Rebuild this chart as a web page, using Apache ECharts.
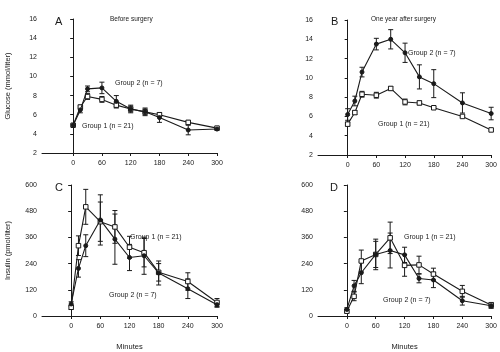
<!DOCTYPE html>
<html>
<head>
<meta charset="utf-8">
<script src="https://cdn.jsdelivr.net/npm/echarts@6/dist/echarts.min.js"></script>
<style>
  html, body { margin: 0; padding: 0; background: #fff; }
  #chart { width: 500px; height: 352px; }
</style>
</head>
<body>
<div id="chart"></div>
<script>
// sampling times (minutes)
const minutes = [0, 15, 30, 60, 90, 120, 150, 180, 240, 300];
const xTicks = [0, 60, 120, 180, 240, 300];

// A: glucose before surgery (mmol/liter)
const glucoseBeforeG1 = [4.9, 6.8, 7.9, 7.6, 7.0, 6.6, 6.3, 6.0, 5.2, 4.6];
const glucoseBeforeG1Err = [0.1, 0.2, 0.3, 0.3, 0.3, 0.3, 0.3, 0.2, 0.2, 0.1];
const glucoseBeforeG2 = [4.9, 6.5, 8.7, 8.8, 7.4, 6.6, 6.3, 5.7, 4.4, 4.5];
const glucoseBeforeG2Err = [0.1, 0.3, 0.3, 0.6, 0.6, 0.4, 0.4, 0.5, 0.5, 0.1];

// B: glucose one year after surgery
const glucoseAfterG1 = [5.2, 6.4, 8.3, 8.2, 8.9, 7.5, 7.4, 6.9, 6.0, 4.6];
const glucoseAfterG1Err = [0.2, 0.2, 0.3, 0.3, 0.2, 0.3, 0.2, 0.1, 0.1, 0.1];
const glucoseAfterG2 = [6.2, 7.6, 10.6, 13.5, 14.0, 12.6, 10.1, 9.4, 7.4, 6.3];
const glucoseAfterG2Err = [0.6, 0.5, 0.5, 0.6, 1.0, 1.0, 1.25, 1.45, 1.05, 0.65];

// C: insulin before surgery (pmol/liter)
const insulinBeforeG1 = [40, 322, 500, 432, 408, 315, 290, 200, 158, 62];
const insulinBeforeG1Err = [10, 45, 80, 90, 75, 50, 65, 40, 40, 18];
const insulinBeforeG2 = [55, 218, 322, 440, 352, 268, 276, 197, 125, 52];
const insulinBeforeG2Err = [10, 40, 50, 115, 115, 60, 85, 55, 45, 12];

// D: insulin one year after surgery
const insulinAfterG1 = [22, 90, 252, 282, 358, 232, 234, 192, 113, 50];
const insulinAfterG1Err = [8, 20, 50, 70, 72, 50, 40, 27, 27, 12];
const insulinAfterG2 = [30, 138, 198, 282, 300, 280, 172, 165, 70, 47];
const insulinAfterG2Err = [8, 25, 50, 60, 80, 35, 20, 35, 20, 12];

const ink = '#1a1a1a';
const font = 'Liberation Sans, Arial, sans-serif';

const chart = echarts.init(document.getElementById('chart'));

function pairs(vals) {
    return minutes.map((m, i) => [m, vals[i]]);
}

function errData(vals, errs) {
    return minutes.map((m, i) => [m, vals[i], errs[i]]);
}

function lineSeries(idx, vals, filled) {
    return {
        type: 'line',
        xAxisIndex: idx,
        yAxisIndex: idx,
        data: pairs(vals),
        symbol: filled ? 'circle' : 'rect',
        symbolSize: filled ? 4 : 4.5,
        lineStyle: { color: ink, width: 1.1 },
        itemStyle: { color: filled ? ink : '#fff', borderColor: ink, borderWidth: 1 },
        z: filled ? 4 : 3,
        silent: true,
        animation: false
    };
}

function errorSeries(idx, vals, errs) {
    return {
        type: 'custom',
        xAxisIndex: idx,
        yAxisIndex: idx,
        data: errData(vals, errs),
        silent: true,
        animation: false,
        z: 2,
        renderItem: function (params, api) {
            const x = api.value(0);
            const y = api.value(1);
            const e = api.value(2);
            const top = api.coord([x, y + e]);
            const bot = api.coord([x, y - e]);
            const cap = 2.5;
            const style = { stroke: ink, lineWidth: 1 };
            return {
                type: 'group',
                children: [
                    { type: 'line', shape: { x1: top[0], y1: top[1], x2: bot[0], y2: bot[1] }, style: style },
                    { type: 'line', shape: { x1: top[0] - cap, y1: top[1], x2: top[0] + cap, y2: top[1] }, style: style },
                    { type: 'line', shape: { x1: bot[0] - cap, y1: bot[1], x2: bot[0] + cap, y2: bot[1] }, style: style }
                ]
            };
        }
    };
}

function xAxisFor(idx, min, withName) {
    return {
        type: 'value',
        gridIndex: idx,
        min: min,
        max: 300,
        axisLine: { show: true, lineStyle: { color: ink, width: 1 } },
        axisTick: { show: true, length: 3, lineStyle: { color: ink }, customValues: xTicks },
        axisLabel: { color: ink, fontSize: 7, fontFamily: font, margin: 7, customValues: xTicks },
        splitLine: { show: false },
        name: withName ? 'Minutes' : '',
        nameLocation: 'middle',
        nameGap: 27,
        nameTextStyle: { color: ink, fontSize: 7.5, fontFamily: font }
    };
}

function yAxisFor(idx, min, max, interval, name) {
    return {
        type: 'value',
        gridIndex: idx,
        min: min,
        max: max,
        interval: interval,
        axisLine: { show: true, lineStyle: { color: ink, width: 1 } },
        axisTick: { show: true, length: 3, lineStyle: { color: ink } },
        axisLabel: { color: ink, fontSize: 7, fontFamily: font, margin: 5 },
        splitLine: { show: false },
        name: name,
        nameLocation: 'middle',
        nameGap: 30,
        nameTextStyle: { color: ink, fontSize: 7.5, fontFamily: font }
    };
}

function label(text, left, top, size) {
    return {
        type: 'text',
        left: left,
        top: top,
        silent: true,
        style: { text: text, fill: ink, font: (size || 7) + 'px ' + font }
    };
}

const option = {
    backgroundColor: '#fff',
    animation: false,
    grid: [
        { left: 42, top: 19, width: 175, height: 134 },
        { left: 318, top: 20, width: 174, height: 135 },
        { left: 42, top: 185, width: 175, height: 133 },
        { left: 318, top: 185, width: 175, height: 135 }
    ],
    xAxis: [
        xAxisFor(0, -65, false),
        xAxisFor(1, -62, false),
        xAxisFor(2, -60, true),
        xAxisFor(3, -60, true)
    ],
    yAxis: [
        yAxisFor(0, 2, 16, 2, 'Glucose (mmol/liter)'),
        yAxisFor(1, 2, 16, 2, ''),
        yAxisFor(2, 0, 600, 120, 'Insulin (pmol/liter)'),
        yAxisFor(3, 0, 600, 120, '')
    ],
    series: [
        errorSeries(0, glucoseBeforeG1, glucoseBeforeG1Err),
        errorSeries(0, glucoseBeforeG2, glucoseBeforeG2Err),
        lineSeries(0, glucoseBeforeG1, false),
        lineSeries(0, glucoseBeforeG2, true),

        errorSeries(1, glucoseAfterG1, glucoseAfterG1Err),
        errorSeries(1, glucoseAfterG2, glucoseAfterG2Err),
        lineSeries(1, glucoseAfterG1, false),
        lineSeries(1, glucoseAfterG2, true),

        errorSeries(2, insulinBeforeG1, insulinBeforeG1Err),
        errorSeries(2, insulinBeforeG2, insulinBeforeG2Err),
        lineSeries(2, insulinBeforeG1, false),
        lineSeries(2, insulinBeforeG2, true),

        errorSeries(3, insulinAfterG1, insulinAfterG1Err),
        errorSeries(3, insulinAfterG2, insulinAfterG2Err),
        lineSeries(3, insulinAfterG1, false),
        lineSeries(3, insulinAfterG2, true)
    ],
    graphic: [
        label('A', 55, 16, 11),
        label('B', 331, 16, 11),
        label('C', 55, 182, 11),
        label('D', 330, 182, 11),
        label('Before surgery', 110, 16, 6.5),
        label('One year after surgery', 371, 16, 6.5),
        label('Group 2 (n = 7)', 115, 80),
        label('Group 1 (n = 21)', 82, 123),
        label('Group 2 (n = 7)', 408, 50),
        label('Group 1 (n = 21)', 378, 121),
        label('Group 1 (n = 21)', 130, 234),
        label('Group 2 (n = 7)', 109, 292),
        label('Group 1 (n = 21)', 404, 234),
        label('Group 2 (n = 7)', 383, 297)
    ]
};

chart.setOption(option);
</script>
</body>
</html>
